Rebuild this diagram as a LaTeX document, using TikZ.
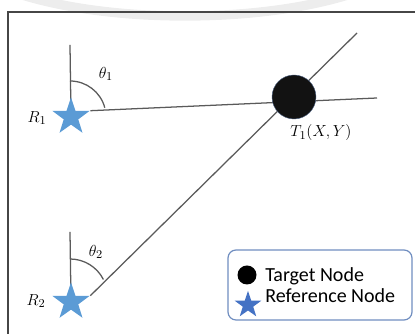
\documentclass[tikz,border=0pt]{standalone}
\usepackage{fontspec}
\newfontfamily\legendfont{Carlito}
\usetikzlibrary{shapes.geometric, backgrounds, calc}

\definecolor{starblue}{RGB}{91,155,213}
\definecolor{keystar}{RGB}{68,114,196}
\definecolor{keyedge}{RGB}{112,142,192}
\definecolor{linegray}{RGB}{90,90,90}
\definecolor{framegray}{RGB}{70,70,70}

\begin{document}
\begin{tikzpicture}[x=0.75pt, y=0.75pt]
    \tikzstyle{refnode} = [star, star points=5, star point ratio=2.55, fill=starblue, inner sep=0pt, minimum size=29.25pt]
    \tikzstyle{target} = [circle, fill=black!93, draw=keyedge!70!black, line width=0.3pt, inner sep=0pt, minimum size=33pt]
    \tikzstyle{lbl} = [inner sep=0pt, font=\fontsize{12.5}{14}\selectfont]
    \tikzstyle{ray} = [draw=linegray, line width=0.95pt]

    \useasboundingbox (0,0) rectangle (415,334);
    \clip (0,0) rectangle (415,334);

    % faint band and frame
    \draw[black!7, line width=7pt] (185,394) ellipse [x radius=236, y radius=76];
    \draw[framegray, line width=1.1pt] (8,-20) -- (8,322) -- (440,322);

    % Reference nodes
    \node[refnode] (R1) at (71,217) {};
    \node[refnode] (R2) at (71,32) {};
    \node[lbl] (lR1) at (37,216) {$R_1$};
    \node[lbl] (lR2) at (36,33) {$R_2$};

    % Target node
    \node[target] (T1) at (294,237) {};
    \node[lbl] (lT1) at (321,201) {$T_1(X,Y)$};

    % Angles
    \node[lbl] (th1) at (106,260) {$\theta_1$};
    \node[lbl] (th2) at (96,82) {$\theta_2$};

    \coordinate (n1) at (70,289);
    \coordinate (n2) at (70,102);
    \coordinate (e1) at (377,236);
    \coordinate (e2) at (357,301);

    % Lines behind the nodes
    \begin{scope}[on background layer]
        \draw[ray] (R1.center) -- (n1);
        \draw[ray] (R2.center) -- (n2);
        \draw[ray] (R1.outer point 5) -- (e1);
        \draw[ray] (R2.outer point 5) -- (e2);
        \draw[ray] ($(R1.center)+(-1,36)$) arc [start angle=90, end angle=15, radius=36];
        \draw[ray] ($(R2.center)+(-1,43)$) arc [start angle=90, end angle=27, radius=37.5];
    \end{scope}

    % Legend
    \draw[keyedge, line width=0.9pt, rounded corners=6pt] (228,14) rectangle (412,84);
    \node[circle, fill=black, inner sep=0pt, minimum size=14.25pt] (kT) at (247,59) {};
    \node[star, star points=5, star point ratio=2.55, fill=keystar, inner sep=0pt, minimum size=21pt] (kR) at (248,29) {};
    \node[anchor=base west, inner sep=0pt, font=\legendfont\fontsize{15}{17}\selectfont] (kTt) at (265,52) {Target Node};
    \node[anchor=base west, inner sep=0pt, font=\legendfont\fontsize{15}{17}\selectfont] (kRt) at (265,31) {Reference Node};
\end{tikzpicture}
\end{document}
